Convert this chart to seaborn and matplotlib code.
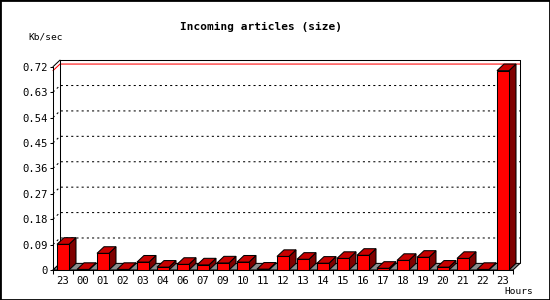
import matplotlib
matplotlib.use("Agg")
import matplotlib.pyplot as plt
import matplotlib.transforms as mtrans
from matplotlib.patches import Polygon, Rectangle
from matplotlib.lines import Line2D
import numpy as np
import seaborn as sns

# ---- data ----
hours = ["23", "00", "01", "02", "03", "04", "06", "07", "09", "10", "11", "12",
         "13", "14", "15", "16", "17", "18", "19", "20", "21", "22", "23"]
values = [0.091, 0.002, 0.059, 0.002, 0.028, 0.010, 0.020, 0.018, 0.025, 0.028,
          0.003, 0.048, 0.038, 0.024, 0.041, 0.052, 0.006, 0.034, 0.045, 0.010,
          0.041, 0.002, 0.706]
ytick_vals = [0, 0.09, 0.18, 0.27, 0.36, 0.45, 0.54, 0.63, 0.72]
ytick_labels = ["0", "0.09", "0.18", "0.27", "0.36", "0.45", "0.54", "0.63", "0.72"]
title = "Incoming articles (size)"
ylabel = "Kb/sec"
xlabel = "Hours"

sns.set_style("white")
plt.rcParams["font.family"] = ["DejaVu Sans Mono", "DejaVu Sans"]
for k in ["text.color", "xtick.color", "ytick.color", "axes.labelcolor", "axes.edgecolor"]:
    plt.rcParams[k] = "black"

W, H = 550, 300
fig = plt.figure(figsize=(W / 100, H / 100), dpi=100)
fig.patch.set_facecolor("white")
ax = fig.add_axes([53 / W, 30 / H, 460 / W, 203.3 / H])
ax.patch.set_visible(False)

slots = list(range(len(values)))
sns.barplot(x=slots, y=values, color="#ff0000", saturation=1, width=0.6,
            edgecolor="black", linewidth=0.75, errorbar=None, ax=ax, zorder=3)

ax.set_xlim(-0.5, len(values) - 0.5)
ax.set_ylim(0, 0.72)

# spines
for s in ["top", "right"]:
    ax.spines[s].set_visible(False)
for s in ["left", "bottom"]:
    ax.spines[s].set_color("black")
    ax.spines[s].set_linewidth(0.75)

# ticks
ax.set_yticks(ytick_vals, labels=ytick_labels)
ax.tick_params(axis="y", length=2.2, width=0.75, pad=1.5, labelsize=7.6,
               left=True, direction="out", colors="black")
ax.set_xticks(slots, labels=hours)
ax.tick_params(axis="x", which="major", length=0, pad=4, labelsize=7.6,
               bottom=True, colors="black")
ax.set_xticks(np.arange(-0.5, len(values), 1.0), minor=True)
ax.tick_params(axis="x", which="minor", length=3, width=0.75, direction="out",
               bottom=True, colors="black")
ax.set_xlabel("")
ax.set_ylabel("")

# ---- 3D decorations in display pixels ----
DX, DY = 7.0, 6.6
T = ax.transData
I = mtrans.IdentityTransform()


def fr(x, y):
    return T.transform((x, y))


def bk(x, y):
    p = T.transform((x, y))
    return p + np.array([DX, DY])


x0, x1 = ax.get_xlim()
ymax = ax.get_ylim()[1]

# floor
floor = Polygon([fr(x0, 0), fr(x1, 0), bk(x1, 0), bk(x0, 0)], closed=True,
                facecolor="#8c8c8c", edgecolor="black", linewidth=0.75,
                transform=I, clip_on=False, zorder=1)
ax.add_artist(floor)

# back wall outline and left wall
wall_lines = [
    [bk(x0, 0), bk(x0, ymax)],
    [bk(x0, ymax), bk(x1, ymax)],
    [bk(x1, ymax), bk(x1, 0)],
    [fr(x0, ymax), bk(x0, ymax)],
    [fr(x0, 0), bk(x0, 0)],
]
for seg in wall_lines:
    seg = np.array(seg)
    ax.add_artist(Line2D(seg[:, 0], seg[:, 1], color="black", lw=0.75,
                         transform=I, clip_on=False, zorder=0.8))

# dotted grid on back wall
for yv in ytick_vals[1:-1]:
    seg = np.array([fr(x0, yv), bk(x0, yv), bk(x1, yv)])
    ax.add_artist(Line2D(seg[:, 0], seg[:, 1], color="black", lw=0.75,
                         linestyle=(0, (2, 3)), transform=I, clip_on=False, zorder=0.5))

# max value line
vmax = max(values)
seg = np.array([fr(x0, vmax), bk(x0, vmax), bk(x1, vmax)])
ax.add_artist(Line2D(seg[:, 0], seg[:, 1], color="#ff0000", lw=0.75,
                     transform=I, clip_on=False, zorder=0.6))

# bar tops and sides
for p in list(ax.patches):
    if not isinstance(p, Rectangle) or p is ax.patch:
        continue
    if p.get_width() <= 0 or p.get_width() > 1:
        continue
    bx, bw, bh = p.get_x(), p.get_width(), p.get_height()
    top = Polygon([fr(bx, bh), fr(bx + bw, bh), bk(bx + bw, bh), bk(bx, bh)],
                  closed=True, facecolor="#c80000", edgecolor="black", linewidth=0.75,
                  transform=I, clip_on=False, zorder=2.5)
    side = Polygon([fr(bx + bw, 0), bk(bx + bw, 0), bk(bx + bw, bh), fr(bx + bw, bh)],
                   closed=True, facecolor="#800000", edgecolor="black", linewidth=0.75,
                   transform=I, clip_on=False, zorder=2.5)
    ax.add_artist(side)
    ax.add_artist(top)
    p.set_zorder(3)

# texts
fig.text(261 / W, 1 - 26.7 / H, title, ha="center", va="center",
         fontsize=8, fontweight="bold", color="black")
fig.text(28 / W, 1 - 36.7 / H, ylabel, ha="left", va="center", fontsize=6.8, color="black")
fig.text(533 / W, 1 - 291.7 / H, xlabel, ha="right", va="center", fontsize=6.8, color="black")

# outer border
fig.add_artist(Rectangle((0, 0), 1, 1, transform=fig.transFigure, fill=False,
                         edgecolor="black", linewidth=2, clip_on=False))

fig.savefig("out.png", dpi=100)
